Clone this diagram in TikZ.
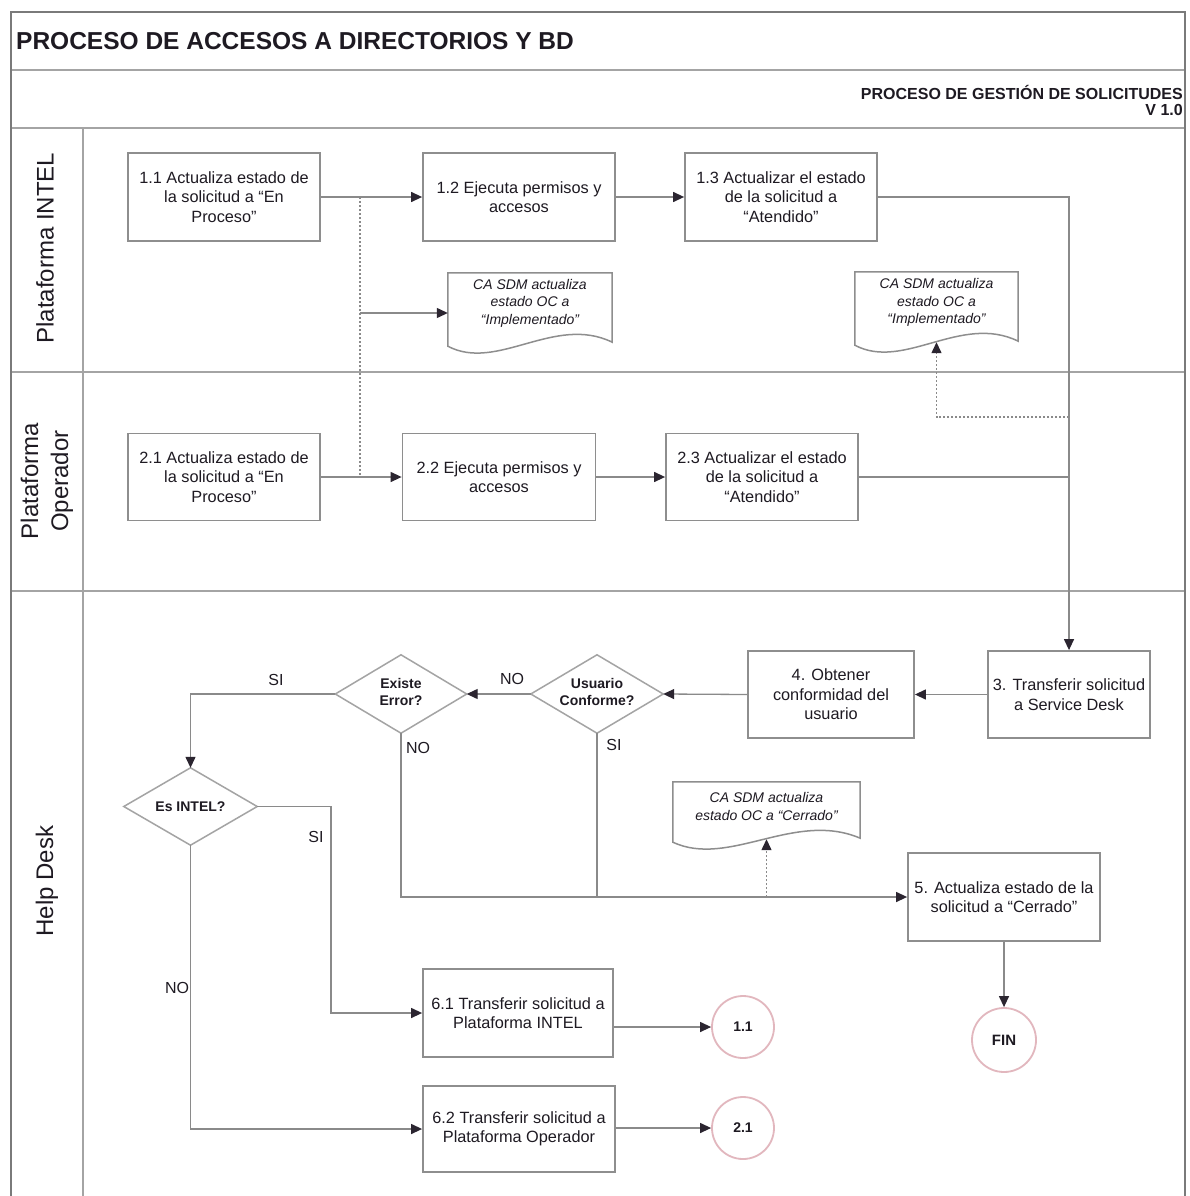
\documentclass[tikz,border=0pt]{standalone}
\usepackage{fontspec}
\setmainfont{Liberation Sans}
\usetikzlibrary{arrows.meta,calc}

\definecolor{framegray}{HTML}{7A7A7A}
\definecolor{lanegray}{HTML}{A4A4A4}
\definecolor{boxgray}{HTML}{8E8E8E}
\definecolor{linegray}{HTML}{8A8A8A}
\definecolor{tipdark}{HTML}{2B2530}
\definecolor{inkdark}{HTML}{1E1A22}
\definecolor{ringpink}{HTML}{E2B7BE}

\newcommand\fsz[2]{\fontsize{#1}{#2}\selectfont}
% document symbol: flat top, wavy bottom
\newcommand\docpath[1]{%
  \draw[docline] (#1.north west) -- (#1.north east) -- ($(#1.south east)+(0,-4)$)
    .. controls ($(#1.south west)!0.65!(#1.south east)+(0,-32)$)
       and ($(#1.south west)!0.30!(#1.south east)+(0,26)$) .. (#1.south west) -- cycle;}
% decision symbol drawn on the tips of a plain rectangle node
\newcommand\decpath[1]{%
  \draw[decline] (#1.north) -- (#1.east) -- (#1.south) -- (#1.west) -- cycle;}

\tikzset{
  stepbox/.style={draw=boxgray, line width=1.8pt, fill=white, align=center,
    inner sep=0pt, minimum width=192, minimum height=88, text=inkdark,
    font=\fsz{16.3}{19.5}},
  decnode/.style={shape=rectangle, inner sep=0pt, align=center, text=inkdark,
    font=\bfseries\fsz{14}{17}},
  decline/.style={draw=lanegray, line width=1.5pt},
  docbox/.style={shape=rectangle, inner sep=0pt},
  doctext/.style={align=center, inner sep=0pt, text=inkdark,
    font=\itshape\fsz{14}{17.5}},
  docline/.style={draw=boxgray, line width=1.5pt, fill=white},
  ring/.style={circle, draw=ringpink, line width=1.8pt, fill=white,
    minimum size=62, inner sep=0pt, text=inkdark, font=\bfseries\fsz{14}{16}},
  flow/.style={draw=linegray, line width=1.3pt,
    -{Triangle[length=11pt,width=10pt,color=tipdark]}},
  plainline/.style={draw=linegray, line width=1.3pt},
  dotline/.style={draw=linegray, line width=1.3pt, dash pattern=on 2pt off 2pt},
  dotflow/.style={dotline, -{Triangle[length=11pt,width=10pt,color=tipdark]}},
  branch/.style={inner sep=0pt, text=inkdark, font=\fsz{16}{18}},
  lanelabel/.style={rotate=90, align=center, inner sep=0pt, text=inkdark,
    font=\fsz{24}{30}},
}

\begin{document}
\begin{tikzpicture}[x=1pt,y=-1pt]
\useasboundingbox[fill=white] (0,0) rectangle (1189,1196);

% ---- frame, header rows and swimlanes ----
\draw[lanegray, line width=2pt] (11,70) -- (1185,70);
\draw[lanegray, line width=2pt] (11,128) -- (1185,128);
\draw[lanegray, line width=2pt] (11,372) -- (1185,372);
\draw[lanegray, line width=2pt] (11,591) -- (1185,591);
\draw[lanegray, line width=2pt] (83,128) -- (83,1196);
\draw[framegray, line width=2.2pt] (11,1196) -- (11,12) -- (1185,12) -- (1185,1196);

\node[anchor=base west, inner sep=0pt, text=inkdark, font=\bfseries\fsz{24.5}{28}]
  (title) at (16,50) {PROCESO DE ACCESOS A DIRECTORIOS Y BD};
\node[anchor=north east, align=right, inner sep=0pt, text=inkdark, font=\bfseries\fsz{16}{16.5}]
  (subtitle) at (1183,85) {PROCESO DE GESTIÓN DE SOLICITUDES\\V 1.0};

\node[lanelabel] (lane1) at (45,248) {Plataforma INTEL};
\node[lanelabel] (lane2) at (47,481) {Plataforma\\Operador};
\node[lanelabel] (lane3) at (47,881) {Help Desk};

% ---- process steps ----
\node[stepbox] (b11) at (224,197) {1.1 Actualiza estado de\\la solicitud a “En\\Proceso”};
\node[stepbox] (b12) at (519,197) {1.2 Ejecuta permisos y\\accesos};
\node[stepbox] (b13) at (781,197) {1.3 Actualizar el estado\\de la solicitud a\\“Atendido”};
\node[stepbox, minimum height=87] (b21) at (224,477) {2.1 Actualiza estado de\\la solicitud a “En\\Proceso”};
\node[stepbox, minimum height=87, minimum width=193] (b22) at (499,477) {2.2 Ejecuta permisos y\\accesos};
\node[stepbox, minimum height=87] (b23) at (762,477) {2.3 Actualizar el estado\\de la solicitud a\\“Atendido”};
\node[stepbox, minimum width=162, minimum height=87] (b3) at (1069,694.5) {3. Transferir solicitud\\a Service Desk};
\node[stepbox, minimum width=166, minimum height=87] (b4) at (831,694.5) {4. Obtener\\conformidad del\\usuario};
\node[stepbox] (b5) at (1004,897) {5. Actualiza estado de la\\solicitud a “Cerrado”};
\node[stepbox, minimum width=190] (b61) at (518,1013) {6.1 Transferir solicitud a\\Plataforma INTEL};
\node[stepbox, minimum height=86] (b62) at (519,1129) {6.2 Transferir solicitud a\\Plataforma Operador};

% ---- decisions ----
\node[decnode, minimum width=132, minimum height=78] (dU) at (597,694) {};
\node[decnode, minimum width=131, minimum height=78] (dE) at (401,694) {};
\node[decnode, minimum width=133, minimum height=77] (dI) at (190.5,806.5) {};
\decpath{dU}\decpath{dE}\decpath{dI}
\node[decnode] (dUt) at (597,692) {Usuario\\Conforme?};
\node[decnode] (dEt) at (401,692) {Existe\\Error?};
\node[decnode] (dIt) at (190.5,806.5) {Es INTEL?};

% ---- documents ----
\node[docbox, minimum width=164, minimum height=73] (dc1) at (530,309.5) {};
\node[docbox, minimum width=163, minimum height=73] (dc2) at (936.5,308.5) {};
\node[docbox, minimum width=187, minimum height=60] (dc3) at (766.5,812) {};
\docpath{dc1}\docpath{dc2}\docpath{dc3}
\node[doctext] (dc1t) at (530,303) {CA SDM actualiza\\estado OC a\\“Implementado”};
\node[doctext] (dc2t) at (936.5,302.5) {CA SDM actualiza\\estado OC a\\“Implementado”};
\node[doctext] (dc3t) at (766.5,806.5) {CA SDM actualiza\\estado OC a “Cerrado”};

% ---- connectors: upper lanes ----
\coordinate (v1) at (360,197);
\coordinate (v2) at (360,477);
\coordinate (v3) at (360,313);
\coordinate (jd) at (1069,417);
\draw[dotline] (v1) -- (v2);
\draw[flow] (b11.east) -- (b12.west);
\draw[flow] (b12.east) -- (b13.west);
\draw[flow] (v3) -- (v3 -| dc1.west);
\draw[flow] (b21.east) -- (b22.west);
\draw[flow] (b22.east) -- (b23.west);
\draw[flow] (b13.east) -| (b3.north);
\draw[plainline] (b23.east) -- (b23.east -| b3.north);
\draw[dotflow] (jd) -| ($(dc2.south)+(0,-3)$);

% ---- connectors: help desk lane ----
\draw[flow] (b3.west) -- (b4.east);
\draw[flow] (b4.west) -- (dU.east);
\draw[flow] (dU.west) -- (dE.east);
\draw[flow] (dE.west) -| (dI.north);
\draw[flow] (dE.south) |- (b5.west);
\draw[plainline] (dU.south) -- (dU.south |- b5.west);
\draw[dotflow] (dc3.south |- b5.west) -- ($(dc3.south)+(0,-3)$);
\coordinate (k1) at (331,806.5);
\draw[flow] (dI.east) -- (k1) |- (b61.west);
\draw[flow] (dI.south) |- (b62.west);

% ---- off-page connectors and end ----
\node[ring] (c11) at (743,1027) {1.1};
\node[ring] (c21) at (743,1128) {2.1};
\node[ring, minimum size=64, font=\bfseries\fsz{15}{17}] (fin) at (1004,1040) {FIN};
\draw[flow] (b61.east |- c11) -- (c11);
\draw[flow] (b62.east |- c21) -- (c21);
\draw[flow] (b5.south) -- (fin);

% ---- branch labels ----
\node[branch] (lno1) at (512,679) {NO};
\node[branch] (lsi1) at (276,680) {SI};
\node[branch] (lno2) at (418,748) {NO};
\node[branch] (lsi2) at (614,745) {SI};
\node[branch] (lsi3) at (316,837) {SI};
\node[branch] (lno3) at (177,988) {NO};
\end{tikzpicture}
\end{document}
